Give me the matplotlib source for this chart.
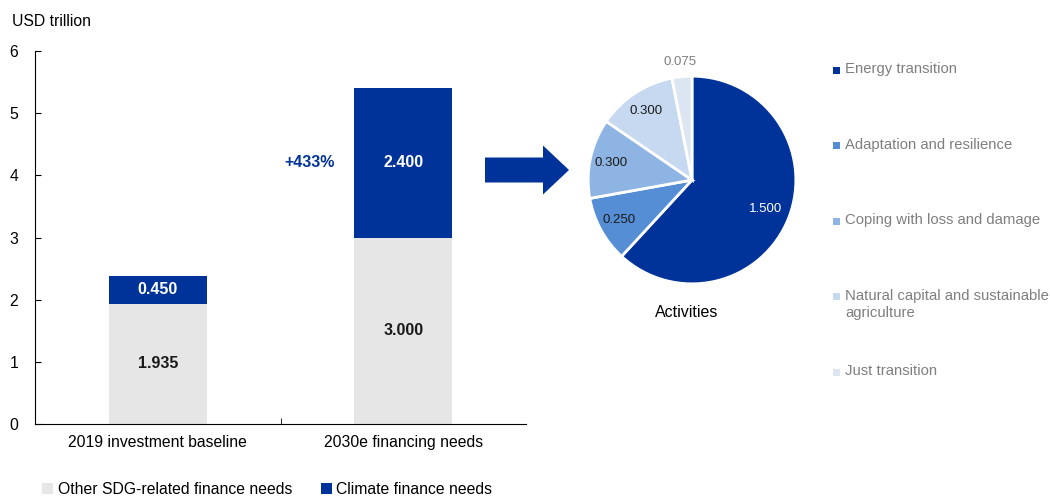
import matplotlib.pyplot as plt
from matplotlib.patches import FancyArrow, Rectangle
import numpy as np

plt.rcParams['font.family'] = ['Liberation Sans', 'DejaVu Sans']

# bar data
categories = ['2019 investment baseline', '2030e financing needs']
other_sdg = [1.935, 3.000]
climate = [0.450, 2.400]
growth_label = '+433%'

# pie data
activities = ['Energy transition', 'Adaptation and resilience',
              'Coping with loss and damage',
              'Natural capital and sustainable\nagriculture', 'Just transition']
activity_vals = [1.500, 0.250, 0.300, 0.300, 0.075]

blue = '#003399'
grey = '#E6E6E6'
pie_cols = ['#003399', '#558ED5', '#8EB4E3', '#C6D9F1', '#DCE6F2']
pie_txt_cols = ['white', '#1a1a1a', '#1a1a1a', '#1a1a1a', '#7f7f7f']
pie_lab_r = [0.76, 0.8, 0.8, 0.8, 1.14]

fig = plt.figure(figsize=(10.5, 4.98), dpi=100)

# ---- bar chart
ax = fig.add_axes([35/1050, 1-424/498, 491/1050, 373/498])
x = np.arange(len(categories))
b1 = ax.bar(x, other_sdg, width=0.4, color=grey, label='Other SDG-related finance needs')
b2 = ax.bar(x, climate, width=0.4, bottom=other_sdg, color=blue, label='Climate finance needs')
for i in range(len(categories)):
    ax.text(x[i], other_sdg[i]/2, f'{other_sdg[i]:.3f}', ha='center', va='center',
            fontsize=11.5, fontweight='bold', color='#1a1a1a')
    ax.text(x[i], other_sdg[i] + climate[i]/2, f'{climate[i]:.3f}', ha='center', va='center',
            fontsize=11.5, fontweight='bold', color='white')
ax.text(0.62, other_sdg[1] + climate[1]/2, growth_label, ha='center', va='center',
        fontsize=11.5, fontweight='bold', color=blue)

ax.set_xlim(-0.5, 1.5)
ax.set_ylim(0, 6)
ax.set_xticks(x)
ax.set_xticklabels(categories, fontsize=11.3)
ax.set_xticks([0.5], minor=True)
ax.tick_params(axis='x', which='major', length=0, pad=8)
ax.tick_params(axis='x', which='minor', direction='in', length=4)
ax.tick_params(axis='y', direction='in', length=4, pad=12, labelsize=11.3)
ax.spines['top'].set_visible(False)
ax.spines['right'].set_visible(False)
fig.text(12/1050, 1-22/498, 'USD trillion', fontsize=11.3, va='center', ha='left')

fig.legend(handles=[b1, b2], loc='center left', bbox_to_anchor=(36/1050, 1-489/498),
           ncol=2, frameon=False, fontsize=11.3, handlelength=0.7, handleheight=0.7,
           handletextpad=0.3, columnspacing=1.8, borderaxespad=0)

# ---- arrow (pixel coords overlay)
ov = fig.add_axes([0, 0, 1, 1])
ov.set_xlim(0, 1050)
ov.set_ylim(498, 0)
ov.axis('off')
ov.add_patch(FancyArrow(485, 170, 84, 0, width=25, head_width=49, head_length=26,
                        length_includes_head=True, color=blue, lw=0))

# ---- pie
pax = fig.add_axes([557/1050, 1-315/498, 270/1050, 270/498])
wedges, _ = pax.pie(activity_vals, colors=pie_cols, startangle=90, counterclock=False,
                    wedgeprops=dict(edgecolor='white', linewidth=2))
for w, v, r, c in zip(wedges, activity_vals, pie_lab_r, pie_txt_cols):
    ang = np.deg2rad((w.theta1 + w.theta2) / 2)
    pax.text(r*np.cos(ang), r*np.sin(ang), f'{v:.3f}', ha='center', va='center',
             fontsize=9.5, color=c)
pax.set_xlim(-1.3, 1.3)
pax.set_ylim(-1.3, 1.3)
pax.set_aspect('equal')
fig.text(687/1050, 1-312/498, 'Activities', fontsize=11.5, ha='center', va='center')

# pie legend
y0 = 70
for i, (lab, col) in enumerate(zip(activities, pie_cols)):
    yy = y0 + i*75.5
    ov.add_patch(Rectangle((833, yy-3.5), 7, 7, color=col, lw=0))
    ov.text(845, yy-8, lab, fontsize=10.7, color='#7f7f7f', ha='left', va='top',
            linespacing=1.3)

fig.savefig('out.png', dpi=100)
